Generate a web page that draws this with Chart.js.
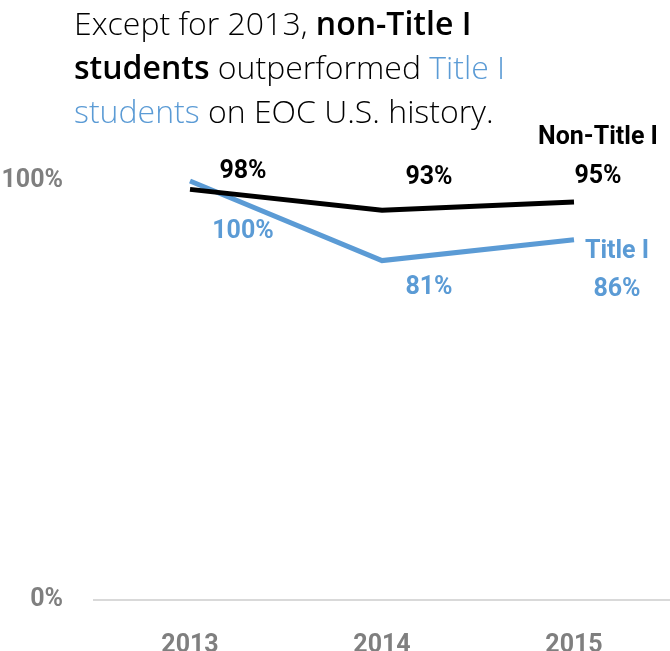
<!DOCTYPE html>
<html>
<head>
<meta charset="utf-8">
<script src="https://cdn.jsdelivr.net/npm/chart.js@4"></script>
<style>
  html, body { margin: 0; padding: 0; background: #fff; overflow: hidden; }
  #wrap { position: relative; width: 670px; height: 651px; }
  #title {
    position: absolute; left: 74px; top: 1px; width: 590px; white-space: nowrap;
    font-family: "Open Sans", sans-serif; font-weight: 300;
    font-size: 32px; line-height: 44px; color: #000;
  }
  #title b { font-weight: 600; }
  #title .blue { color: #5B9BD5; }
  canvas { position: absolute; left: 0; top: 0; }
</style>
</head>
<body>
<div id="wrap">
  <canvas id="trendChart" width="670" height="651"></canvas>
  <div id="title">Except for 2013, <b>non-Title I</b><br><b>students</b> outperformed <span class="blue">Title I</span><br><span class="blue">students</span> on EOC U.S. history.</div>
</div>
<script>
const years = ["2013", "2014", "2015"];
const nonTitleI = [98, 93, 95];
const titleI = [100, 81, 86];
const yTicks = [0, 100];

const labelFont = "Roboto, sans-serif";

// where each value label sits relative to its point (px)
const labelOffsets = [
  [[53, -18], [47, -33], [24, -25]],
  [[53, 51], [47, 27], [43, 50]]
];
const nameOffsets = [[24, -64], [43, 12]];

const valueLabels = {
  id: "valueLabels",
  afterDatasetsDraw(chart) {
    const ctx = chart.ctx;
    ctx.save();
    ctx.font = "bold 25px " + labelFont;
    ctx.textAlign = "center";
    ctx.textBaseline = "middle";
    chart.data.datasets.forEach((ds, i) => {
      const meta = chart.getDatasetMeta(i);
      ctx.fillStyle = ds.borderColor;
      meta.data.forEach((pt, j) => {
        const off = labelOffsets[i][j];
        ctx.fillText(ds.data[j] + "%", pt.x + off[0], pt.y + off[1]);
      });
      const last = meta.data[meta.data.length - 1];
      ctx.fillText(ds.label, last.x + nameOffsets[i][0], last.y + nameOffsets[i][1]);
    });
    ctx.restore();
  }
};

new Chart(document.getElementById("trendChart").getContext("2d"), {
  type: "line",
  data: {
    labels: years,
    datasets: [
      {
        label: "Non-Title I",
        data: nonTitleI,
        borderColor: "#000000",
        borderWidth: 5,
        pointRadius: 0,
        tension: 0,
        clip: false
      },
      {
        label: "Title I",
        data: titleI,
        borderColor: "#5B9BD5",
        borderWidth: 5,
        pointRadius: 0,
        tension: 0,
        clip: false
      }
    ]
  },
  options: {
    responsive: false,
    animation: false,
    layout: { padding: { top: 181, right: 0, left: 0, bottom: 0 } },
    plugins: {
      legend: { display: false },
      tooltip: { enabled: false },
      title: { display: false }
    },
    scales: {
      x: {
        offset: true,
        grid: { display: false, drawTicks: false },
        border: { display: true, color: "#D9D9D9", width: 2 },
        afterFit: axis => { axis.height = 51; },
        ticks: {
          color: "#7F7F7F",
          padding: 33,
          maxRotation: 0,
          font: { family: labelFont, size: 25, weight: "bold", lineHeight: 1.0 }
        }
      },
      y: {
        min: 0,
        max: 100,
        grid: { display: false, drawTicks: false },
        border: { display: false },
        afterBuildTicks: axis => { axis.ticks = yTicks.map(v => ({ value: v })); },
        afterFit: axis => { axis.width = 94; },
        ticks: {
          color: "#7F7F7F",
          padding: 31,
          font: { family: labelFont, size: 25, weight: "bold" },
          callback: v => v + "%"
        }
      }
    }
  },
  plugins: [valueLabels]
});
</script>
</body>
</html>
